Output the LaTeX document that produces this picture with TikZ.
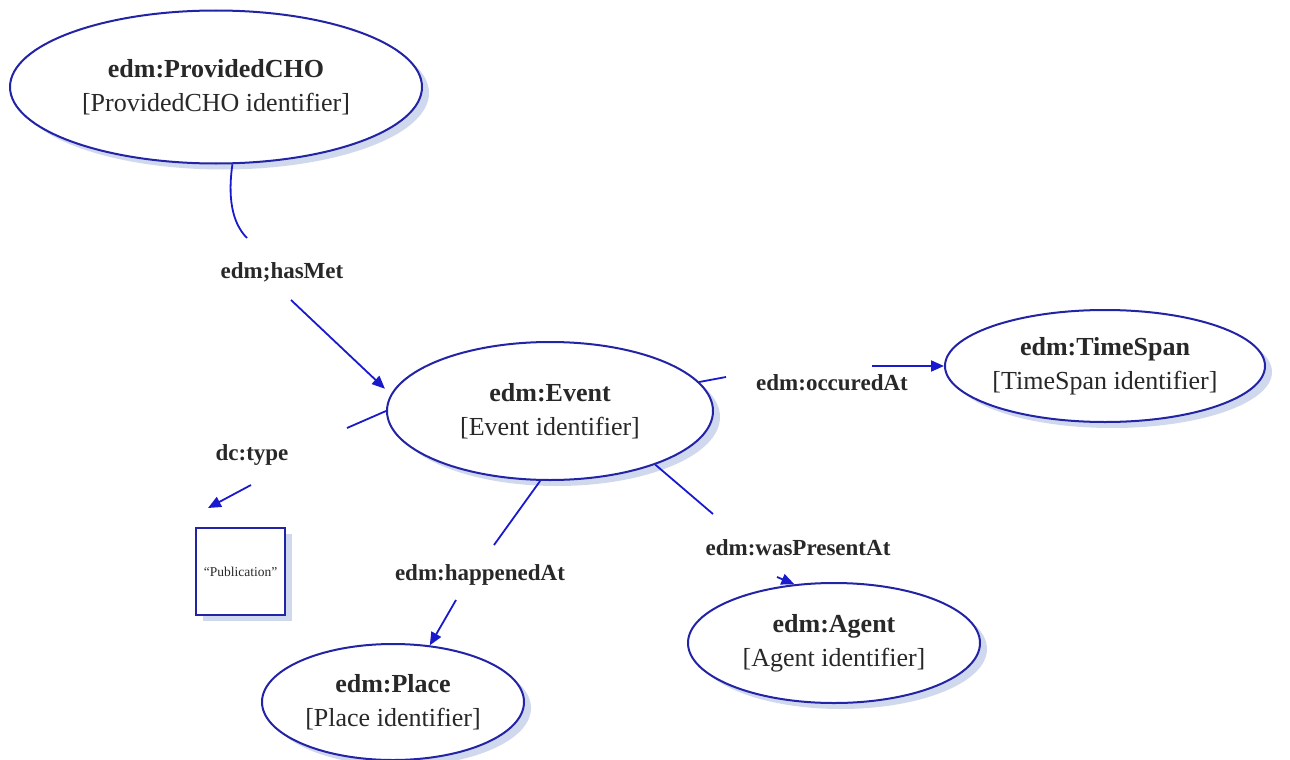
\documentclass[tikz,border=0pt]{standalone}
\usepackage{fontspec}
\setmainfont{Liberation Serif}
\usetikzlibrary{arrows.meta,shadows,shapes.geometric}
\definecolor{rimblue}{RGB}{35,35,165}
\definecolor{linkblue}{RGB}{25,25,205}
\definecolor{shadeblue}{RGB}{208,216,238}
\definecolor{inkgray}{RGB}{40,40,40}
\begin{document}
\begin{tikzpicture}[x=1pt,y=-1pt,
  entity/.style={ellipse, draw=rimblue, line width=2pt, fill=white, align=center,
    inner sep=0pt, text=inkgray, font=\fontsize{26}{34}\selectfont,
    drop shadow={shadow xshift=7pt, shadow yshift=-6pt, fill=shadeblue, opacity=1}},
  literal/.style={rectangle, draw=rimblue, line width=2pt, fill=white, text=inkgray,
    inner sep=0pt, font=\fontsize{13.5}{16}\selectfont,
    drop shadow={shadow xshift=7pt, shadow yshift=-6pt, fill=shadeblue, opacity=1}},
  prop/.style={text=inkgray, font=\fontsize{23}{27}\selectfont\bfseries, inner sep=2pt},
  link/.style={draw=linkblue, line width=1.8pt},
  pointer/.style={link, -{Triangle[length=13pt,width=11pt]}}]
\useasboundingbox (0,0) rectangle (1290,760);

% resources
\node[entity, minimum width=412pt, minimum height=153pt] (cho) at (216,87)
  {{\bfseries edm:ProvidedCHO}\\{[}ProvidedCHO identifier{]}};
\node[entity, minimum width=326pt, minimum height=138pt] (ev) at (550,411)
  {{\bfseries edm:Event}\\{[}Event identifier{]}};
\node[entity, minimum width=320pt, minimum height=112pt] (ts) at (1105,366)
  {{\bfseries edm:TimeSpan}\\{[}TimeSpan identifier{]}};
\node[entity, minimum width=292pt, minimum height=120pt] (ag) at (834,643)
  {{\bfseries edm:Agent}\\{[}Agent identifier{]}};
\node[entity, minimum width=262pt, minimum height=116pt] (pl) at (393,702)
  {{\bfseries edm:Place}\\{[}Place identifier{]}};
\node[literal, minimum width=89pt, minimum height=87pt] (pub) at (240.5,571.5)
  {``Publication''};

% property labels
\node[prop] (hm) at (282,272) {edm;hasMet};
\node[prop] (oc) at (832,383) {edm:occuredAt};
\node[prop] (dt) at (252,455) {dc:type};
\node[prop] (ha) at (480,575) {edm:happenedAt};
\node[prop] (wp) at (798,548) {edm:wasPresentAt};

% ends of the line pieces beside the labels
\coordinate (hmA) at (247,238);
\coordinate (hmB) at (291,300);
\coordinate (ocA) at (726,377);
\coordinate (ocB) at (872,366);
\coordinate (dtA) at (347,428);
\coordinate (dtB) at (251,485);
\coordinate (dtTip) at (208,508);
\coordinate (haA) at (494,545);
\coordinate (haB) at (456,600);
\coordinate (wpA) at (713,514);
\coordinate (wpB) at (777,577);

% edm;hasMet
\draw[link] (cho.-78) .. controls (228,195) and (231,222) .. (hmA);
\draw[pointer, shorten >=8pt] (hmB) -- (ev.174);
% edm:occuredAt
\draw[link] (ev.11) -- (ocA);
\draw[pointer] (ocB) -- (ts.west);
% dc:type
\draw[link] (ev.180) -- (dtA);
\draw[pointer] (dtB) -- (dtTip);
% edm:happenedAt
\draw[link] (ev.-98) -- (haA);
\draw[pointer] (haB) -- (pl.57);
% edm:wasPresentAt
\draw[link] (ev.-27) -- (wpA);
\draw[pointer] (wpB) -- (ag.124);
\end{tikzpicture}
\end{document}
